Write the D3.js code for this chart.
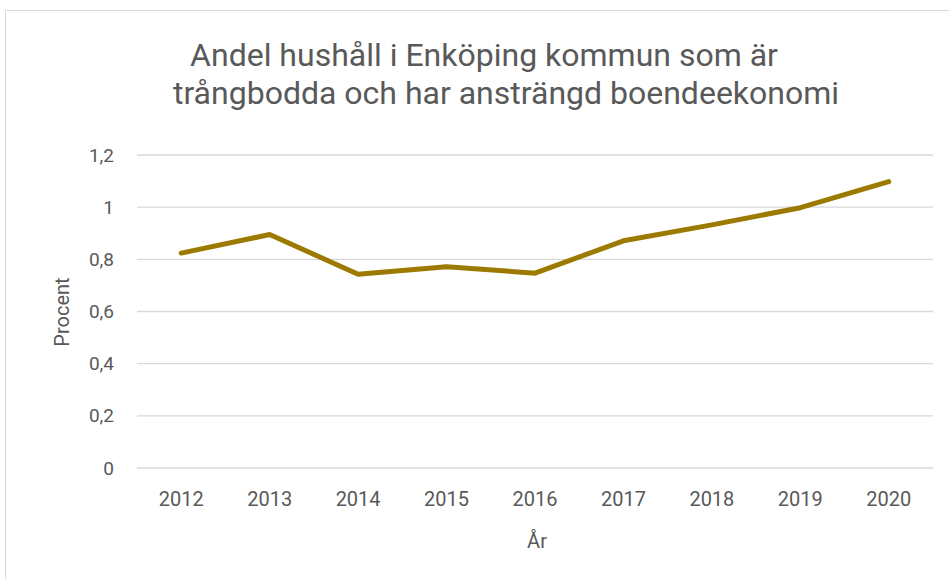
<!DOCTYPE html>
<html>
<head>
<meta charset="utf-8">
<script src="https://cdn.jsdelivr.net/npm/d3@7"></script>
<style>
  body { margin: 0; background: #fff; }
  svg { display: block; }
  text { font-family: "Liberation Sans Narrow", "Roboto", sans-serif; fill: #595959; }
</style>
</head>
<body>
<div id="chart"></div>
<script>
const years = ["2012", "2013", "2014", "2015", "2016", "2017", "2018", "2019", "2020"];
const values = [0.824, 0.895, 0.743, 0.772, 0.747, 0.871, 0.932, 0.998, 1.098];
const yTicks = [0, 0.2, 0.4, 0.6, 0.8, 1, 1.2];
const titleLines = ["Andel hushåll i Enköping kommun som är", "trångbodda och har ansträngd boendeekonomi"];

const width = 949, height = 579;
const margin = {top: 155, right: 16, bottom: 111, left: 137};
// title line centres (first line is wrapped with trailing space in the original)
const titleX = [484, 506];

const svg = d3.select("#chart").append("svg")
    .attr("width", width)
    .attr("height", height);

// chart frame
svg.append("rect")
    .attr("x", 5.5).attr("y", 10.5)
    .attr("width", width + 10).attr("height", height + 10)
    .attr("fill", "none")
    .attr("stroke", "#d9d9d9");

const x = d3.scaleBand().domain(years).range([margin.left, width - margin.right]);
const y = d3.scaleLinear().domain([0, 1.2]).range([height - margin.bottom, margin.top]);

// gridlines
svg.append("g")
    .selectAll("line")
    .data(yTicks)
    .join("line")
    .attr("x1", margin.left).attr("x2", width - margin.right)
    .attr("y1", d => y(d)).attr("y2", d => y(d))
    .attr("stroke", "#d9d9d9")
    .attr("stroke-width", 1.3);

// y axis labels
const fmt = d => String(+d.toFixed(1)).replace(".", ",");
svg.append("g")
    .selectAll("text")
    .data(yTicks)
    .join("text")
    .attr("x", 114)
    .attr("y", d => y(d))
    .attr("dy", "0.35em")
    .attr("text-anchor", "end")
    .style("font-size", "19px")
    .text(fmt);

// x axis labels
svg.append("g")
    .selectAll("text")
    .data(years)
    .join("text")
    .attr("x", d => x(d) + x.bandwidth() / 2)
    .attr("y", 506)
    .attr("text-anchor", "middle")
    .style("font-size", "20px")
    .text(d => d);

// line
svg.append("path")
    .datum(values)
    .attr("fill", "none")
    .attr("stroke", "#9c7a00")
    .attr("stroke-width", 5)
    .attr("stroke-linecap", "round")
    .attr("stroke-linejoin", "round")
    .attr("d", d3.line()
        .x((d, i) => x(years[i]) + x.bandwidth() / 2)
        .y(d => y(d)));

// titles
svg.append("g")
    .selectAll("text")
    .data(titleLines)
    .join("text")
    .attr("x", (d, i) => titleX[i])
    .attr("y", (d, i) => 66 + i * 38)
    .attr("text-anchor", "middle")
    .style("font-size", "32px")
    .text(d => d);

svg.append("text")
    .attr("x", 537)
    .attr("y", 548)
    .attr("text-anchor", "middle")
    .style("font-size", "20px")
    .text("År");

svg.append("text")
    .attr("transform", "translate(69, 312) rotate(-90)")
    .attr("text-anchor", "middle")
    .style("font-size", "20px")
    .text("Procent");
</script>
</body>
</html>
